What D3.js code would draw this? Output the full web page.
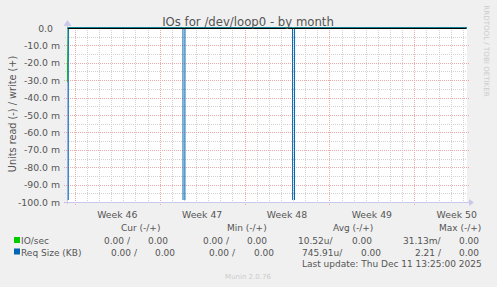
<!DOCTYPE html>
<html><head><meta charset="utf-8">
<script src="https://cdn.jsdelivr.net/npm/d3@7"></script>
<style>
html,body{margin:0;padding:0;background:#f0f0f0;}
svg{display:block;font-family:"DejaVu Sans",sans-serif;}
</style></head><body>
<svg id="chart" width="497" height="287"></svg>
<script>
// ---- data ----
const title = "IOs for /dev/loop0 - by month";
const yAxisTitle = "Units read (-) / write (+)";
const rangeStart = "2025-11-08 13:25";
const rangeEnd = "2025-12-11 13:25";
const sampleTimes = ["2025-11-08 14:00","2025-11-08 16:00","2025-11-18 03:00","2025-11-18 05:00","2025-11-18 07:00","2025-11-27 04:00","2025-11-27 06:00","2025-11-27 08:00","2025-12-11 13:25"];
const ioRead   = [-0.03113, 0, 0, 0, 0, 0, 0, 0, 0];
const ioWrite  = [0, 0, 0, 0, 0, 0, 0, 0, 0];
const reqRead  = [-2.21, 0, 0, -1.4, 0, 0, -1.6, 0, 0];
const reqWrite = [0, 0, 0, 0, 0, 0, 0, 0, 0];
const yTickValues = [0, -0.01, -0.02, -0.03, -0.04, -0.05, -0.06, -0.07, -0.08, -0.09, -0.1];
const yTickLabels = ["0.0","-10.0 m","-20.0 m","-30.0 m","-40.0 m","-50.0 m","-60.0 m","-70.0 m","-80.0 m","-90.0 m","-100.0 m"];
const weekTicks = ["2025-11-09 05:00","2025-11-16 05:00","2025-11-23 05:00","2025-11-30 05:00","2025-12-07 05:00"];
const weekLabels = ["Week 46","Week 47","Week 48","Week 49","Week 50"];
const seriesNames = ["IO/sec","Req Size (KB)"];
const seriesColors = ["#00cc00","#0066b3"];
const legendHeaders = ["Cur (-/+)","Min (-/+)","Avg (-/+)","Max (-/+)"];
const legendValues = [
  ["0.00 /","0.00","0.00 /","0.00","10.52u/","0.00","31.13m/","0.00"],
  ["0.00 /","0.00","0.00 /","0.00","745.91u/","0.00","2.21 /","0.00"]
];
const lastUpdate = "Last update: Thu Dec 11 13:25:00 2025";
const footer = "Munin 2.0.76";
const watermark = "RRDTOOL / TOBI OETIKER";

// ---- layout ----
const parse = d3.timeParse("%Y-%m-%d %H:%M");
const L = 67, R = 467, T = 28, B = 202;
const svg = d3.select("#chart");
const textColor = "#555";

const x = d3.scaleTime().domain([parse(rangeStart), parse(rangeEnd)]).range([L, R]);
const y = d3.scaleLinear().domain([-0.1, 0]).range([B, T]);

svg.append("rect").attr("width",497).attr("height",287).attr("fill","#f0f0f0");
svg.append("rect").attr("x",L).attr("y",T).attr("width",R-L).attr("height",B-T).attr("fill","#fff");

// grid
const g = svg.append("g");
const dayLines = [];
for (let d = d3.timeDay.offset(parse(weekTicks[0]), -1); d <= x.domain()[1]; d = d3.timeDay.offset(d, 1)) {
  if (d >= x.domain()[0]) dayLines.push(d);
}
const weekSet = new Set(weekTicks.map(s => +parse(s)));
const minorColor = "#d2d2d2", majorColor = "#eaaaaa";
g.selectAll(".vmin").data(dayLines.filter(d => !weekSet.has(+d))).join("line")
  .attr("x1", d => Math.round(x(d)) + 0.5).attr("x2", d => Math.round(x(d)) + 0.5)
  .attr("y1", T).attr("y2", B + 2)
  .attr("stroke",minorColor).attr("stroke-dasharray","1,1");
const yMinor = d3.range(-0.005, -0.1, -0.01);
g.selectAll(".hmin").data(yMinor).join("line")
  .attr("x1", L - 2).attr("x2", R)
  .attr("y1", d => Math.round(y(d)) + 0.5).attr("y2", d => Math.round(y(d)) + 0.5)
  .attr("stroke",minorColor).attr("stroke-dasharray","1,1");
g.selectAll(".vmaj").data(weekTicks.map(parse)).join("line")
  .attr("x1", d => Math.round(x(d)) + 0.5).attr("x2", d => Math.round(x(d)) + 0.5)
  .attr("y1", T).attr("y2", B + 3)
  .attr("stroke",majorColor).attr("stroke-dasharray","1,1");
g.selectAll(".hmaj").data(yTickValues.filter(v => v !== 0)).join("line")
  .attr("x1", L - 3).attr("x2", R + 2)
  .attr("y1", d => Math.round(y(d)) + 0.5).attr("y2", d => Math.round(y(d)) + 0.5)
  .attr("stroke",majorColor).attr("stroke-dasharray","1,1");

// axes lines + arrows
const axisColor = "#c8c8ec";
svg.append("line").attr("x1", L - 2).attr("x2", R + 3).attr("y1", B + 0.5).attr("y2", B + 0.5).attr("stroke", axisColor);
svg.append("line").attr("x1", L + 0.5).attr("x2", L + 0.5).attr("y1", T - 3).attr("y2", B + 2).attr("stroke", axisColor);
svg.append("path").attr("d", `M${L-3.5},${T-2}L${L+0.5},${T-8}L${L+4.5},${T-2}Z`).attr("fill", axisColor);
svg.append("path").attr("d", `M${R+2},${B-3}L${R+7},${B+0.5}L${R+2},${B+4}Z`).attr("fill", axisColor);

// data lines
svg.append("clipPath").attr("id","clip").append("rect").attr("x",L).attr("y",T-1).attr("width",R-L).attr("height",B-T-1);
const pts = vals => sampleTimes.map((t,i) => ({t: parse(t), v: vals[i]}));
const line = d3.line().x(d => x(d.t)).y(d => y(d.v));
const lines = svg.append("g").attr("clip-path","url(#clip)");
[[ioRead,0],[ioWrite,0],[reqRead,1],[reqWrite,1]].forEach(([vals,ci]) => {
  lines.append("path").datum(pts(vals)).attr("d", line)
    .attr("fill","none").attr("stroke", seriesColors[ci]).attr("stroke-width",1);
});
// zero rule
svg.append("line").attr("x1", L + 1).attr("x2", R - 1).attr("y1", y(0) + 0.5).attr("y2", y(0) + 0.5).attr("stroke","#000");

// y tick labels
svg.selectAll(".ylab").data(yTickValues).join("text")
  .attr("x", (d,i) => yTickLabels[i].endsWith("m") ? 60 : 53)
  .attr("y", d => y(d) + 3.5)
  .attr("text-anchor","end").attr("font-size",9.3).attr("fill",textColor)
  .text((d,i) => yTickLabels[i]);

// x labels
svg.selectAll(".xlab").data(weekTicks.map(parse)).join("text")
  .attr("x", d => x(d3.timeHour.offset(d, 84)))
  .attr("y", 217.5).attr("text-anchor","middle").attr("font-size",9.3).attr("fill",textColor)
  .text((d,i) => weekLabels[i]);

// titles
svg.append("text").attr("x", 248).attr("y", 25.5).attr("text-anchor","middle")
  .attr("font-size",11.7).attr("fill",textColor).text(title);
svg.append("text").attr("transform","translate(16,114) rotate(-90)").attr("text-anchor","middle")
  .attr("font-size",9.7).attr("fill",textColor).text(yAxisTitle);
svg.append("text").attr("transform","translate(484,51) rotate(90)").attr("text-anchor","middle")
  .attr("font-size",7.1).attr("fill","#cccccc").text(watermark);

// legend
const headerX = [121, 227, 333, 439];
svg.selectAll(".lh").data(legendHeaders).join("text")
  .attr("x", (d,i) => headerX[i]).attr("y", 231)
  .attr("font-size",9).attr("fill",textColor).text(d => d);
const rowY = [244, 255.5];
const colX = [[104,148,203,247,298,352,403,459],[111,155,209,254,302,361,415,459]];
seriesNames.forEach((name, r) => {
  svg.append("rect").attr("x",14).attr("y",rowY[r]-7).attr("width",6).attr("height",6).attr("fill",seriesColors[r]);
  svg.append("text").attr("x",21).attr("y",rowY[r]).attr("font-size",9).attr("fill",textColor).text(name);
  svg.selectAll(".lv"+r).data(legendValues[r]).join("text")
    .attr("x", (d,i) => colX[r][i]).attr("y", rowY[r])
    .attr("font-size",9).attr("fill",textColor).text(d => d);
});
svg.append("text").attr("x",302).attr("y",267).attr("font-size",9).attr("fill",textColor).text(lastUpdate);
svg.append("text").attr("x",248).attr("y",278.5).attr("text-anchor","middle").attr("font-size",7).attr("fill","#cccccc").text(footer);
</script>
</body></html>
